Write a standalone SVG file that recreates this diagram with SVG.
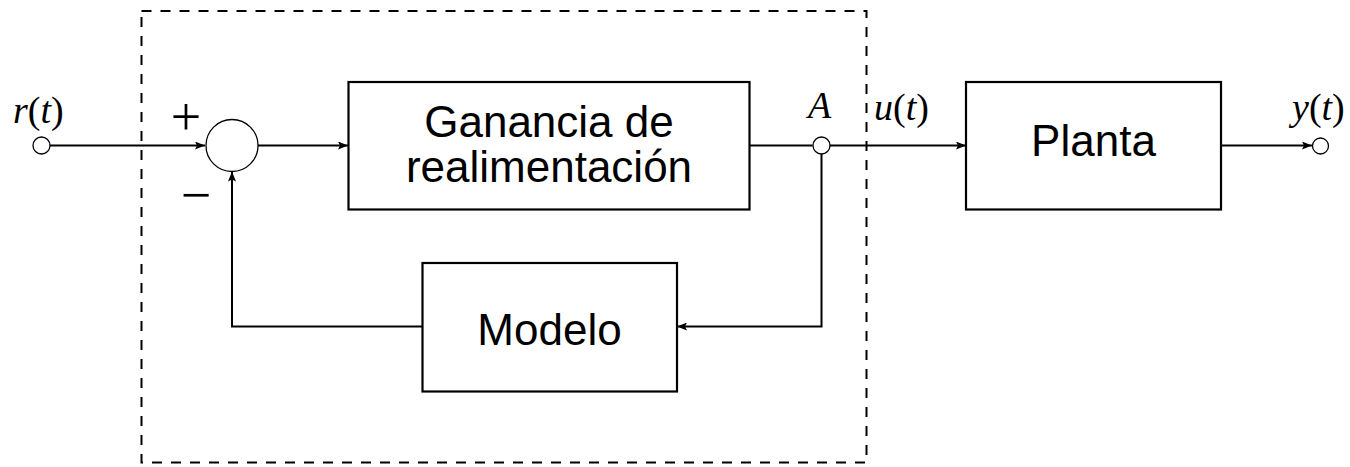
<svg xmlns="http://www.w3.org/2000/svg" width="1350" height="467" viewBox="0 0 1350 467">
<style>
.box{fill:#fff;stroke:#000;stroke-width:2.2}
.ln{fill:none;stroke:#000;stroke-width:2}
.pt{fill:#fff;stroke:#000;stroke-width:1.3}
.dash{fill:none;stroke:#000;stroke-width:2;stroke-dasharray:10 9}
.lbl{font-family:"Liberation Sans",Arial,sans-serif;font-size:44px;fill:#000;text-anchor:middle}
.m{font-family:"Liberation Serif","Times New Roman",serif;font-size:38px;fill:#000}
.s{font-family:"Liberation Serif","Times New Roman",serif;font-size:54px;fill:#000;text-anchor:middle}
.i{font-style:italic}
</style>
<defs>
<marker id="arr" markerWidth="10" markerHeight="8" refX="10" refY="4" orient="auto" markerUnits="userSpaceOnUse">
<path d="M0,0 L10,4 L0,8 L2,4 Z" fill="#000"/>
</marker>
</defs>
<rect id="boundary" class="dash" x="141.5" y="11" width="725" height="451.5"/>
<g id="connectors">
<line class="ln" x1="50" y1="145.5" x2="205" y2="145.5" marker-end="url(#arr)"/>
<line class="ln" x1="258" y1="145.5" x2="348" y2="145.5" marker-end="url(#arr)"/>
<line class="ln" x1="750" y1="145.5" x2="812.5" y2="145.5"/>
<line class="ln" x1="830" y1="145.5" x2="966" y2="145.5" marker-end="url(#arr)"/>
<line class="ln" x1="1221" y1="145.5" x2="1312" y2="145.5" marker-end="url(#arr)"/>
<polyline class="ln" points="821.5,154 821.5,326.5 677,326.5" marker-end="url(#arr)"/>
<polyline class="ln" points="422,326.5 232,326.5 232,171.5" marker-end="url(#arr)"/>
</g>
<g id="input">
<circle class="pt" cx="41.5" cy="145.5" r="8.5"/>
<text class="m" x="13" y="123"><tspan class="i">r</tspan>(<tspan class="i">t</tspan>)</text>
</g>
<g id="sum">
<circle class="pt" cx="232" cy="145.5" r="26"/>
<text class="s" x="186" y="135">+</text>
<text class="s" x="196" y="213">−</text>
</g>
<g id="ganancia">
<rect class="box" x="348.5" y="82" width="401" height="127.5"/>
<text class="lbl" x="549" y="137">Ganancia de</text>
<text class="lbl" x="549" y="182">realimentación</text>
</g>
<g id="pointA">
<circle class="pt" cx="821.5" cy="145.5" r="8.5"/>
<text class="m i" x="819.5" y="118" text-anchor="middle">A</text>
</g>
<g id="u">
<text class="m" x="874" y="120"><tspan class="i">u</tspan>(<tspan class="i">t</tspan>)</text>
</g>
<g id="planta">
<rect class="box" x="966" y="82" width="255" height="127.5"/>
<text class="lbl" x="1093.5" y="156">Planta</text>
</g>
<g id="modelo">
<rect class="box" x="422.5" y="263" width="254.5" height="128.5"/>
<text class="lbl" x="549.5" y="345">Modelo</text>
</g>
<g id="output">
<circle class="pt" cx="1320.5" cy="146" r="8"/>
<text class="m" x="1292" y="120"><tspan class="i">y</tspan>(<tspan class="i">t</tspan>)</text>
</g>
</svg>
